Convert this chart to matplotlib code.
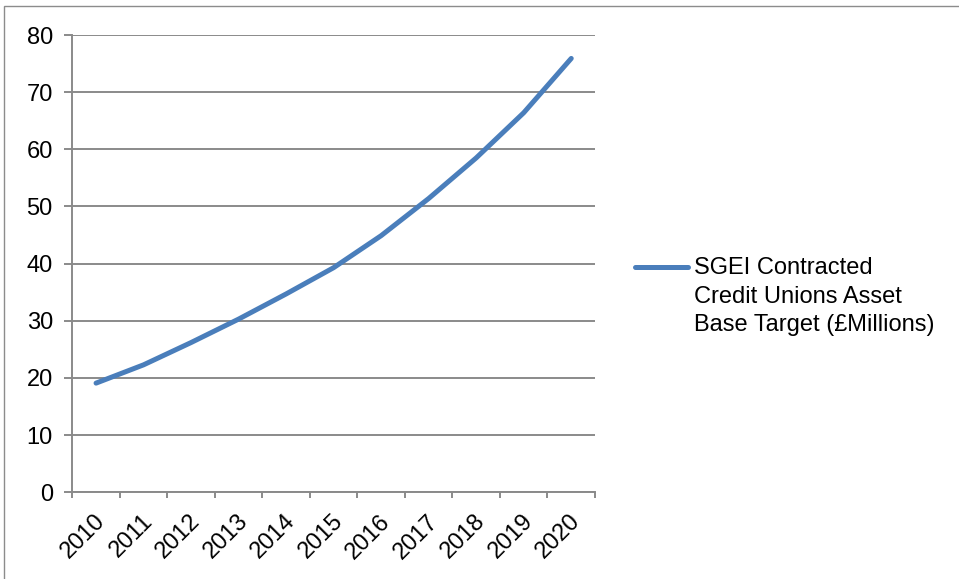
import matplotlib
matplotlib.use("Agg")
import matplotlib.pyplot as plt
import matplotlib.transforms as mtransforms
from matplotlib.lines import Line2D
from matplotlib.patches import Rectangle

years = ["2010", "2011", "2012", "2013", "2014", "2015",
         "2016", "2017", "2018", "2019", "2020"]
asset_target = [19.1, 22.3, 26.2, 30.3, 34.7, 39.3, 44.9, 51.4, 58.5, 66.4, 75.9]
series_label = "SGEI Contracted\nCredit Unions Asset\nBase Target (£Millions)"

plt.rcParams["font.family"] = ["Liberation Sans", "DejaVu Sans"]
FS = 17

W, H = 959, 579
fig = plt.figure(figsize=(W / 100, H / 100), dpi=100)
fig.patch.set_facecolor("white")

# outer chart frame
fig.add_artist(Rectangle((4 / W, -0.01), 1.0, 1 - 6 / H + 0.01,
                         transform=fig.transFigure, fill=False,
                         edgecolor="#8c8c8c", linewidth=1.0))

grey = "#8a8a8a"
ax = fig.add_axes([72.3 / W, (H - 492.3) / H, (595 - 72.3) / W, (492.3 - 35) / H])
x = list(range(len(years)))
ax.plot(x, asset_target, color="#4a7ebb", linewidth=3.6,
        solid_capstyle="round", solid_joinstyle="round", zorder=3)

ax.set_xlim(-0.5, len(years) - 0.5)
ax.set_ylim(0, 80)
ax.set_yticks(range(0, 81, 10))
ax.yaxis.grid(True, color=grey, linewidth=1.4)
ax.set_axisbelow(True)

# category boundaries carry the tick marks; labels sit at category centres
ax.set_xticks([i - 0.5 for i in range(len(years) + 1)])
ax.set_xticklabels([])
ax.tick_params(axis="x", which="major", length=4.5, width=1.4, color=grey,
               direction="out")
ax.tick_params(axis="y", length=5.5, width=1.4, color=grey, direction="out",
               labelsize=FS, pad=8.5)

label_tf = mtransforms.blended_transform_factory(ax.transData, ax.transAxes) + \
    mtransforms.ScaledTranslation(-2 / 100, -18 / 100, fig.dpi_scale_trans)
for i, yr in enumerate(years):
    ax.text(i, 0, yr, transform=label_tf, rotation=45, ha="right", va="top",
            rotation_mode="anchor", fontsize=FS)

for side in ("top", "right"):
    ax.spines[side].set_visible(False)
for side in ("left", "bottom"):
    ax.spines[side].set_color(grey)
    ax.spines[side].set_linewidth(1.4)

# legend drawn beside the plot area
fig.add_artist(Line2D([635 / W, 688 / W], [(H - 267) / H] * 2,
                      transform=fig.transFigure, color="#4a7ebb",
                      linewidth=3.6, solid_capstyle="round"))
fig.text(694 / W, (H - 257.5) / H, series_label, ha="left", va="top",
         fontsize=FS, linespacing=1.38, transform=fig.transFigure)

fig.savefig("out.png", dpi=100, facecolor="white")
